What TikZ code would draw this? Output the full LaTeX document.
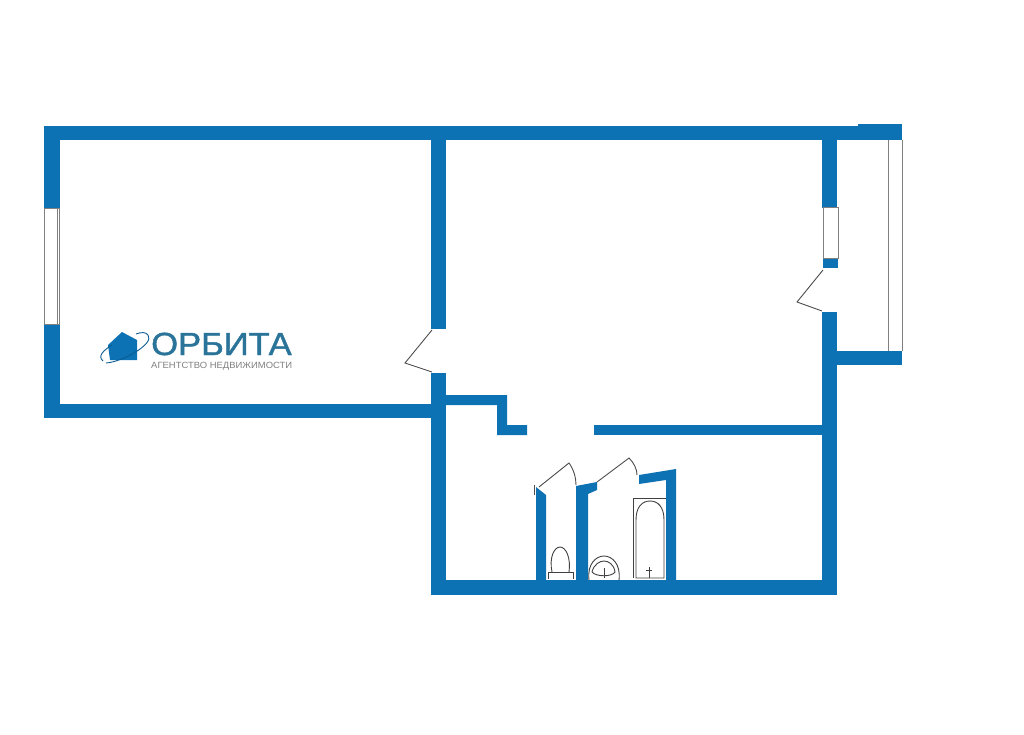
\documentclass[tikz,border=0pt]{standalone}
\usepackage{fontspec}
\usepackage{xcolor}
\setmainfont{Liberation Sans}
\newfontfamily\logofont[FakeBold=1.2]{Liberation Sans}
\definecolor{wallblue}{HTML}{0C72B4}
\definecolor{logoblue}{HTML}{2A7399}
\tikzset{
    wall/.style={fill=wallblue},
    frame/.style={draw=black!50,line width=1pt},
    leaf/.style={draw=black!70,line width=0.9pt},
    fixture/.style={draw=black!75,line width=0.9pt}
}

\begin{document}
\begin{tikzpicture}[x=1pt,y=-1pt]
            \useasboundingbox (0,0) rectangle (1024,735);

            \fill[wall] (44,126) rectangle (858,140);
            \fill[wall] (858,124) rectangle (902,140);
            \fill[wall] (44,126) rectangle (60,209);
            \fill[wall] (44,324) rectangle (60,418);
            \fill[wall] (44,404) rectangle (446,418);
            \fill[wall] (431,140) rectangle (446,329);
            \fill[wall] (431,373) rectangle (446,595);
            \fill[wall] (431,580) rectangle (837,595);
            \fill[wall] (822,140) rectangle (837,208);
            \fill[wall] (823,258) rectangle (838,268);
            \fill[wall] (822,312) rectangle (837,595);
            \fill[wall] (837,351) rectangle (902,365);

            \fill[wall] (446,395) -- (507,395) -- (507,425) -- (527,425) -- (527,435) -- (497,435) -- (497,405) -- (446,405) -- cycle;
            \fill[wall] (594,425) rectangle (822,435);

            \fill[wall] (536,487) -- (546,495) -- (546,580) -- (536,580) -- cycle;
            \fill[wall] (576,486) -- (597,482) -- (597,490) -- (588,494) -- (588,580) -- (576,580) -- cycle;
            \fill[wall] (639,475) -- (676,469) -- (676,580) -- (666,580) -- (666,480) -- (639,484) -- cycle;

            \draw[frame] (44,209) rectangle (59,324);
            \draw[frame] (57,209) -- (57,324);
            \draw[frame] (823,208) rectangle (838,258);
            \draw[frame] (888,140) -- (888,351);
            \draw[frame] (902,140) -- (902,351);

            \draw[leaf] (432,330) -- (405,363) -- (432,372);
            \draw[leaf] (823,270) -- (797,302) -- (822,311);
            \draw[leaf] (539,487) -- (569,463) .. controls (574,470) and (576,478) .. (576,485);
            \draw[leaf] (597,482) -- (629,458) .. controls (634,463) and (637,469) .. (637,475);
            \draw[leaf] (534,485) -- (534,495);

            \draw[fixture] (633,578) -- (633,498) -- (666,498);
            \draw[fixture] (636,578) -- (636,520) .. controls (636,507) and (642,501) .. (650,501) .. controls (658,501) and (664,507) .. (664,520) -- (664,578) -- cycle;
            \draw[fixture] (649,567) -- (649,578);
            \draw[fixture] (646,570) -- (652,570);

            \draw[fixture] (589,580) .. controls (587,564) and (596,556) .. (604,556) .. controls (612,556) and (621,564) .. (619,580);
            \draw[fixture] (592,572) .. controls (594,564) and (600,561) .. (604,561) .. controls (608,561) and (614,564) .. (615,572) .. controls (612,577) and (596,577) .. (592,572);
            \draw[fixture] (604,568) -- (604,578);

            \draw[fixture] (548,579) -- (548,572) -- (573,572) -- (573,579);
            \draw[fixture] (552,572) .. controls (549,558) and (554,547) .. (560,547) .. controls (566,547) and (571,558) .. (569,572);

            \fill[wallblue] (108,345) -- (122,332) -- (137,340) -- (137,360) -- (110,360) -- cycle;
            \draw[wallblue!80!black,line width=0.9pt] (103,361) .. controls (97,356) and (104,350) .. (112,345);
            \draw[wallblue!80!black,line width=0.9pt] (106,363) .. controls (122,362) and (155,344) .. (148,335) .. controls (146,332) and (141,332) .. (136,334);

            \node[anchor=west,inner sep=0pt,text=logoblue,xscale=1.08] (logoname) at (151,344) {\fontsize{32}{32}\logofont ОРБИТА};
            \node[anchor=west,inner sep=0pt,text=black!50,xscale=1.05] (logosub) at (151,366) {\fontsize{9}{9}\selectfont АГЕНТСТВО НЕДВИЖИМОСТИ};
        \end{tikzpicture}
\end{document}
